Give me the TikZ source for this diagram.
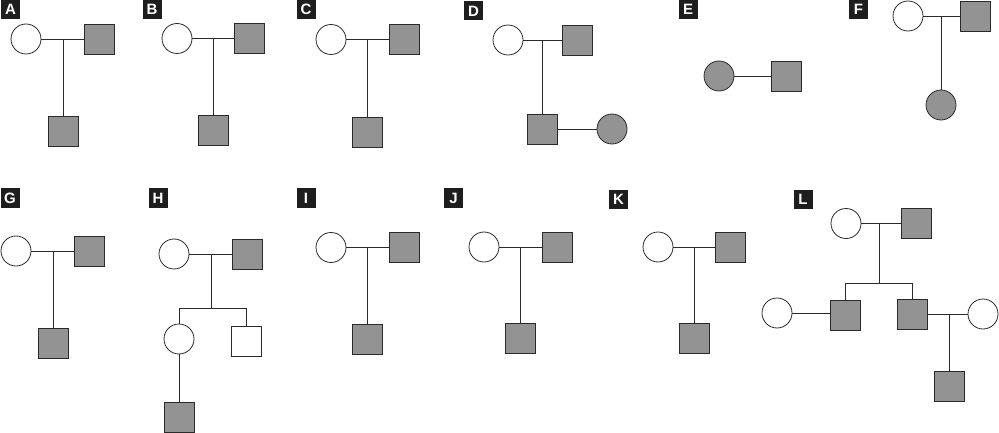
\documentclass[tikz,border=0pt]{standalone}
\usepackage{fontspec}
\setmainfont{Liberation Sans}
\definecolor{aff}{HTML}{939393}
\definecolor{ink}{HTML}{2A2A2A}
\definecolor{labbg}{HTML}{1E1E1E}
\begin{document}
\begin{tikzpicture}[x=1pt,y=-1pt, line width=0.8pt, color=ink,
  circ/.style={circle, draw=ink, fill=white, minimum size=30pt, inner sep=0pt, line width=0.8pt},
  circf/.style={circ, fill=aff},
  sq/.style={rectangle, draw=ink, fill=white, minimum size=30pt, inner sep=0pt, line width=0.8pt},
  sqf/.style={sq, fill=aff},
  lab/.style={rectangle, fill=labbg, text=white, minimum size=19pt, inner sep=0pt, font=\fontsize{15}{15}\selectfont\bfseries}]
\useasboundingbox (0,0) rectangle (999,433);
% A
\node[lab] (la) at (10.5,9.5) {A};
\node[circ] (a1) at (26,39) {};
\node[sqf] (a2) at (99,39) {};
\coordinate (am) at (63,39);
\node[sqf] (a3) at (63,131.5) {};
\draw (a1) -- (a2);
\draw (am) -- (a3);
% B
\node[lab] (lb) at (152,9.5) {B};
\node[circ] (b1) at (177,38.5) {};
\node[sqf] (b2) at (249,38.5) {};
\coordinate (bm) at (213,38.5);
\node[sqf] (b3) at (213,130.5) {};
\draw (b1) -- (b2);
\draw (bm) -- (b3);
% C
\node[lab] (lc) at (306,9.5) {C};
\node[circ] (c1) at (331,39.5) {};
\node[sqf] (c2) at (404,39.5) {};
\coordinate (cm) at (367,39.5);
\node[sqf] (c3) at (367,132) {};
\draw (c1) -- (c2);
\draw (cm) -- (c3);
% D
\node[lab] (ld) at (473.5,11) {D};
\node[circ] (d1) at (508,40) {};
\node[sqf] (d2) at (577,40) {};
\coordinate (dm) at (542,40);
\node[sqf] (d3) at (542,129) {};
\node[circf] (d4) at (612,129) {};
\draw (d1) -- (d2);
\draw (dm) -- (d3);
\draw (d3) -- (d4);
% E
\node[lab] (le) at (688,9.5) {E};
\node[circf] (e1) at (719,76) {};
\node[sqf] (e2) at (786.5,76) {};
\draw (e1) -- (e2);
% F
\node[lab] (lf) at (858.5,9.5) {F};
\node[circ] (f1) at (908,16) {};
\node[sqf] (f2) at (975.5,16) {};
\coordinate (fm) at (941,16);
\node[circf] (f3) at (941,105) {};
\draw (f1) -- (f2);
\draw (fm) -- (f3);
% G
\node[lab] (lg) at (10,198) {G};
\node[circ] (g1) at (16,251) {};
\node[sqf] (g2) at (89.5,251) {};
\coordinate (gm) at (53,251);
\node[sqf] (g3) at (53,343) {};
\draw (g1) -- (g2);
\draw (gm) -- (g3);
% H
\node[lab] (lh) at (158,198) {H};
\node[circ] (h1) at (174,254) {};
\node[sqf] (h2) at (247.5,254) {};
\coordinate (hm) at (211,254);
\coordinate (hs) at (211,308);
\coordinate (hl) at (179,308);
\coordinate (hr) at (246,308);
\node[circ] (h3) at (179,339) {};
\node[sq] (h4) at (246,341) {};
\node[sqf] (h5) at (179,417) {};
\draw (h1) -- (h2);
\draw (hm) -- (hs);
\draw (hl) -- (hr);
\draw (hl) -- (h3);
\draw (hr) -- (h4);
\draw (h3) -- (h5);
% I
\node[lab] (li) at (306,198) {I};
\node[circ] (i1) at (331,247.5) {};
\node[sqf] (i2) at (404,247.5) {};
\coordinate (im) at (367,247.5);
\node[sqf] (i3) at (367,339) {};
\draw (i1) -- (i2);
\draw (im) -- (i3);
% J
\node[lab] (lj) at (453.5,198) {J};
\node[circ] (j1) at (484,247) {};
\node[sqf] (j2) at (557.5,247) {};
\coordinate (jm) at (520,247);
\node[sqf] (j3) at (520,338.5) {};
\draw (j1) -- (j2);
\draw (jm) -- (j3);
% K
\node[lab] (lk) at (618.5,199) {K};
\node[circ] (k1) at (658,247) {};
\node[sqf] (k2) at (730.5,247) {};
\coordinate (km) at (694,247);
\node[sqf] (k3) at (694,338.5) {};
\draw (k1) -- (k2);
\draw (km) -- (k3);
% L
\node[lab] (ll0) at (803,199.5) {L};
\node[circ] (l1) at (846,223.5) {};
\node[sqf] (l2) at (916.5,223.5) {};
\coordinate (lm) at (879,223.5);
\coordinate (ls) at (879,283);
\coordinate (lsl) at (845,283);
\coordinate (lsr) at (912,283);
\node[sqf] (l3) at (845,315) {};
\node[sqf] (l4) at (912,314) {};
\node[circ] (l5) at (777,313) {};
\node[circ] (l6) at (983,314) {};
\coordinate (lm2) at (949,314);
\node[sqf] (l7) at (949,386) {};
\draw (l1) -- (l2);
\draw (lm) -- (ls);
\draw (lsl) -- (lsr);
\draw (lsl) -- (l3);
\draw (lsr) -- (l4);
\draw (l5) -- (l5 -| l3.west);
\draw (l4) -- (l6);
\draw (lm2) -- (l7);
\end{tikzpicture}
\end{document}
